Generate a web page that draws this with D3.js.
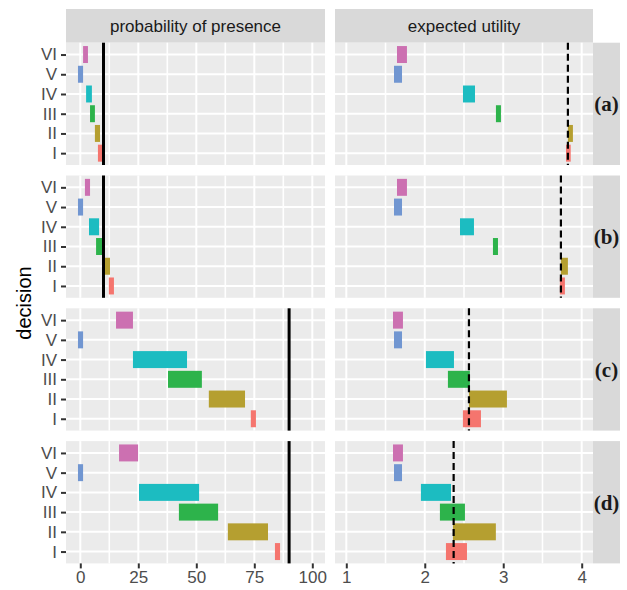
<!DOCTYPE html>
<html>
<head>
<meta charset="utf-8">
<script src="https://cdn.jsdelivr.net/npm/d3@7"></script>
<style>
  body { margin: 0; background: #fff; }
  svg { display: block; font-family: "Liberation Sans", Arial, sans-serif; }
</style>
</head>
<body>
<div id="chart-area"></div>
<script>
// decisions, bottom to top
var decisions = ["I", "II", "III", "IV", "V", "VI"];
var scenarios = ["(a)", "(b)", "(c)", "(d)"];
var colors = ["#F5756E", "#B59F30", "#2DB34B", "#1CBCC1", "#7196D1", "#CC70B1"];

// probability of presence, [min, max] per decision, one row per scenario
var presence = [
  [[7.6, 9.4], [6.3, 8.5], [4.2, 6.3], [2.5, 5.0], [-1, 1.2], [1.2, 3.3]],
  [[12.3, 14.5], [10.6, 12.8], [6.8, 9.4], [3.75, 8.1], [-1, 1.2], [2.0, 4.2]],
  [[73.5, 75.7], [55.4, 71.0], [37.8, 52.4], [22.7, 46.0], [-1, 1.2], [15.4, 22.7]],
  [[83.9, 86.1], [63.6, 80.9], [42.5, 59.4], [25.3, 51.2], [-1, 1.2], [16.7, 24.9]]
];
// expected utility, [min, max]
var utility = [
  [[3.80, 3.86], [3.824, 3.888], [2.907, 2.971], [2.487, 2.64], [1.608, 1.71], [1.646, 1.773]],
  [[3.722, 3.786], [3.735, 3.824], [2.869, 2.933], [2.449, 2.627], [1.608, 1.71], [1.646, 1.773]],
  [[2.486, 2.716], [2.563, 3.047], [2.295, 2.575], [2.015, 2.372], [1.608, 1.71], [1.595, 1.722]],
  [[2.27, 2.538], [2.359, 2.906], [2.193, 2.512], [1.951, 2.334], [1.608, 1.71], [1.595, 1.722]]
];
var thresholds = [10, 10, 90, 90];
var utilityRef = [3.824, 3.735, 2.563, 2.368];

var presenceTicks = [0, 25, 50, 75, 100];
var presenceMinor = [12.5, 37.5, 62.5, 87.5];
var utilityTicks = [1, 2, 3, 4];
var utilityMinor = [1.5, 2.5, 3.5];

var W = 627, H = 590;
var cols = [[66, 325], [335, 593]];
var stripTop = 9, panelTop = 42.7, panelH = 122.3, gap = 10.5;
var stripRight = [593, 620];

var svg = d3.select("#chart-area").append("svg")
    .attr("width", W)
    .attr("height", H);

var xPres = d3.scaleLinear().domain([-6.16, 105.47]).range(cols[0]);
var xUtil = d3.scaleLinear().domain([0.856, 4.144]).range(cols[1]);

// top strips
var stripTitles = ["probability of presence", "expected utility"];
cols.forEach(function (c, i) {
    svg.append("rect")
        .attr("x", c[0]).attr("y", stripTop)
        .attr("width", c[1] - c[0]).attr("height", panelTop - stripTop)
        .attr("fill", "#D9D9D9");
    svg.append("text")
        .attr("x", (c[0] + c[1]) / 2).attr("y", (stripTop + panelTop) / 2)
        .attr("dy", "0.35em")
        .attr("text-anchor", "middle")
        .attr("fill", "#1A1A1A")
        .style("font-size", "17px")
        .text(stripTitles[i]);
});

scenarios.forEach(function (s, r) {
    var top = panelTop + r * (panelH + gap);
    var bottom = top + panelH;
    var y = d3.scalePoint().domain(decisions).range([bottom, top]).padding(0.6);
    var barH = y.step() * 0.86;

    [[xPres, presenceTicks, presenceMinor, presence[r]], [xUtil, utilityTicks, utilityMinor, utility[r]]]
    .forEach(function (p, ci) {
        var x = p[0];
        var g = svg.append("g");
        g.append("rect")
            .attr("x", cols[ci][0]).attr("y", top)
            .attr("width", cols[ci][1] - cols[ci][0]).attr("height", panelH)
            .attr("fill", "#EBEBEB");
        g.selectAll(".minor").data(p[2]).enter().append("line")
            .attr("x1", x).attr("x2", x).attr("y1", top).attr("y2", bottom)
            .attr("stroke", "#fff").attr("stroke-width", 1.6);
        g.selectAll(".major").data(p[1]).enter().append("line")
            .attr("x1", x).attr("x2", x).attr("y1", top).attr("y2", bottom)
            .attr("stroke", "#fff").attr("stroke-width", 2);
        g.selectAll(".hgrid").data(decisions).enter().append("line")
            .attr("x1", cols[ci][0]).attr("x2", cols[ci][1])
            .attr("y1", y).attr("y2", y)
            .attr("stroke", "#fff").attr("stroke-width", 2);

        g.selectAll(".bar").data(p[3]).enter().append("rect")
            .attr("x", function (d) { return x(d[0]); })
            .attr("width", function (d) { return x(d[1]) - x(d[0]); })
            .attr("y", function (d, i) { return y(decisions[i]) - barH / 2; })
            .attr("height", barH)
            .attr("fill", function (d, i) { return colors[i]; });

        var ref = ci === 0 ? thresholds[r] : utilityRef[r];
        g.append("line")
            .attr("x1", x(ref)).attr("x2", x(ref))
            .attr("y1", top).attr("y2", bottom)
            .attr("stroke", "#000")
            .attr("stroke-width", ci === 0 ? 3 : 2.2)
            .attr("stroke-dasharray", ci === 0 ? null : "7,4");

        if (r === scenarios.length - 1) {
            var ax = svg.append("g")
                .attr("transform", "translate(0," + bottom + ")")
                .call(d3.axisBottom(x).tickValues(p[1]).tickSize(5).tickPadding(3).tickFormat(d3.format("d")));
            ax.select(".domain").remove();
            ax.selectAll(".tick line").attr("stroke", "#333").attr("stroke-width", 2);
            ax.selectAll(".tick text").attr("fill", "#4D4D4D")
                .style("font-size", "17px").style("font-family", "Liberation Sans, Arial, sans-serif");
        }
    });

    // left axis
    var ay = svg.append("g")
        .attr("transform", "translate(" + cols[0][0] + ",0)")
        .call(d3.axisLeft(y).tickSize(5).tickPadding(4));
    ay.select(".domain").remove();
    ay.selectAll(".tick line").attr("stroke", "#333").attr("stroke-width", 2);
    ay.selectAll(".tick text").attr("fill", "#4D4D4D")
        .style("font-size", "17px").style("font-family", "Liberation Sans, Arial, sans-serif");

    // right strip
    svg.append("rect")
        .attr("x", stripRight[0]).attr("y", top)
        .attr("width", stripRight[1] - stripRight[0]).attr("height", panelH)
        .attr("fill", "#D9D9D9");
    svg.append("text")
        .attr("x", (stripRight[0] + stripRight[1]) / 2).attr("y", (top + bottom) / 2)
        .attr("dy", "0.35em")
        .attr("text-anchor", "middle")
        .attr("fill", "#1A1A1A")
        .style("font-family", "Liberation Serif, Times New Roman, serif")
        .style("font-weight", "bold")
        .style("font-size", "21px")
        .text(s);
});

svg.append("text")
    .attr("transform", "translate(24," + (panelTop + (4 * panelH + 3 * gap) / 2) + ") rotate(-90)")
    .attr("dy", "0.35em")
    .attr("text-anchor", "middle")
    .attr("fill", "#000")
    .style("font-size", "20px")
    .text("decision");
</script>
</body>
</html>
